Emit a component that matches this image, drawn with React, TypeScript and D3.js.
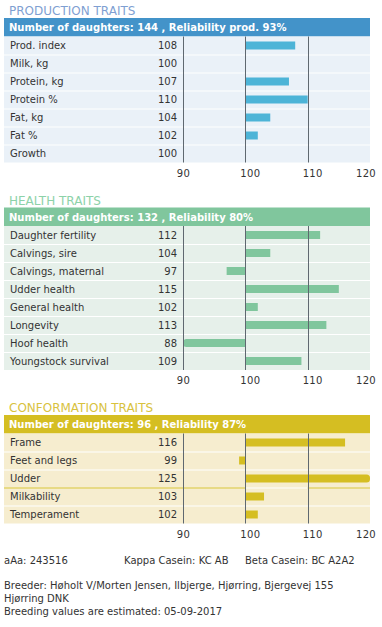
import React from "react";
import * as d3 from "d3";

const prodTitle = "PRODUCTION TRAITS";
const prodHeader = "Number of daughters: 144 , Reliability prod. 93%";
const prodLabels = ["Prod. index", "Milk, kg", "Protein, kg", "Protein %", "Fat, kg", "Fat %", "Growth"];
const prodValues = [108, 100, 107, 110, 104, 102, 100];

const healthTitle = "HEALTH TRAITS";
const healthHeader = "Number of daughters: 132 , Reliability 80%";
const healthLabels = ["Daughter fertility", "Calvings, sire", "Calvings, maternal", "Udder health", "General health", "Longevity", "Hoof health", "Youngstock survival"];
const healthValues = [112, 104, 97, 115, 102, 113, 88, 109];

const confTitle = "CONFORMATION TRAITS";
const confHeader = "Number of daughters: 96 , Reliability 87%";
const confLabels = ["Frame", "Feet and legs", "Udder", "Milkability", "Temperament"];
const confValues = [116, 99, 125, 103, 102];

const tickValues = [90, 100, 110, 120];
const gridValues = [90, 100, 110];

const footLine1 = ["aAa: 243516", "Kappa Casein: KC AB", "Beta Casein: BC A2A2"];
const footLines = [
  "Breeder: Høholt V/Morten Jensen, Ilbjerge, Hjørring, Bjergevej 155",
  "Hjørring DNK",
  "Breeding values are estimated: 05-09-2017",
];

const FONT = "'DejaVu Sans', Verdana, sans-serif";

const sections = [
  { title: prodTitle, header: prodHeader, labels: prodLabels, values: prodValues,
    titleColor: "#7f9fd2", headColor: "#4393c9", barColor: "#4db4d7", rowColor: "#eaf1f8", special: -1 },
  { title: healthTitle, header: healthHeader, labels: healthLabels, values: healthValues,
    titleColor: "#8dd2a9", headColor: "#80c69d", barColor: "#80c69d", rowColor: "#e6f0ea", special: -1 },
  { title: confTitle, header: confHeader, labels: confLabels, values: confValues,
    titleColor: "#d8c23e", headColor: "#d5be22", barColor: "#d5be22", rowColor: "#f6edcf", special: 2 },
];

const LEFT = 4;
const RIGHT = 370;
const ROW_H = 18;
const HEAD_H = 18;
const BAR_H = 8;

const x = d3.scaleLinear().domain([90, 120]).range([183, 370]);

function barPath(v: number, y: number) {
  const [dMin, dMax] = x.domain();
  const cv = Math.max(dMin, Math.min(dMax, v));
  const x0 = x(100);
  const x1 = x(cv);
  const r = 3.5;
  const h = BAR_H;
  if (v > dMax) {
    return `M${x0},${y}H${x1 - r}A${r},${r} 0 0 1 ${x1},${y + r}V${y + h - r}A${r},${r} 0 0 1 ${x1 - r},${y + h}H${x0}Z`;
  }
  if (v < dMin) {
    return `M${x0},${y}H${x1 + r}A${r},${r} 0 0 0 ${x1},${y + r}V${y + h - r}A${r},${r} 0 0 0 ${x1 + r},${y + h}H${x0}Z`;
  }
  const a = Math.min(x0, x1), b = Math.max(x0, x1);
  return `M${a},${y}H${b}V${y + h}H${a}Z`;
}

export default function App() {
  let headTop = 18;
  const blocks: any[] = [];
  let lastBottom = 0;
  sections.forEach((s, si) => {
    const rowsTop = headTop + HEAD_H + 0.5;
    const rowsBottom = rowsTop + s.labels.length * ROW_H;
    blocks.push(
      <g key={si}>
        <text x={9} y={headTop - 3} fontSize={12} fill={s.titleColor} fontFamily={FONT}>{s.title}</text>
        <rect x={LEFT} y={headTop} width={RIGHT - LEFT} height={HEAD_H + 0.5} fill={s.headColor} />
        <text x={9} y={headTop + 13} fontSize={10} fontWeight="bold" fill="#ffffff" fontFamily={FONT}>{s.header}</text>
        {s.labels.map((lab, i) => {
          const ry = rowsTop + i * ROW_H;
          return (
            <g key={i}>
              <rect x={LEFT} y={ry + (i === 0 ? 0 : 1)} width={RIGHT - LEFT} height={ROW_H - (i === 0 ? 0 : 1)} fill={s.rowColor} />
              <text x={10} y={ry + 12.5} fontSize={10} fill="#333333" fontFamily={FONT}>{lab}</text>
              <text x={177} y={ry + 12.5} fontSize={10} fill="#333333" textAnchor="end" fontFamily={FONT}>{s.values[i]}</text>
            </g>
          );
        })}
        {s.special >= 0 && (
          <g>
            <line x1={LEFT} x2={x(100)} y1={rowsTop + (s.special + 1) * ROW_H + 0.5} y2={rowsTop + (s.special + 1) * ROW_H + 0.5} stroke={s.barColor} strokeWidth={1} />
            <line x1={x(110)} x2={RIGHT} y1={rowsTop + (s.special + 1) * ROW_H + 0.5} y2={rowsTop + (s.special + 1) * ROW_H + 0.5} stroke={s.barColor} strokeWidth={1} />
          </g>
        )}
        {s.values.map((v, i) => {
          const ry = rowsTop + i * ROW_H + 5;
          if (v === 100) return null;
          return <path key={i} d={barPath(v, ry)} fill={s.barColor} />;
        })}
        {gridValues.map((g) => (
          <line key={g} x1={Math.round(x(g)) + 0.5} x2={Math.round(x(g)) + 0.5} y1={rowsTop} y2={rowsBottom} stroke="#5f6870" strokeWidth={1} />
        ))}
        {tickValues.map((t, ti) => {
          const last = ti === tickValues.length - 1;
          const first = ti === 0;
          const tx = first ? x(t) + 0.5 : last ? x(t) + 6 : x(t) + 5;
          return (
            <text key={t} x={tx} y={rowsBottom + 14} fontSize={10} fill="#333333" textAnchor={last ? "end" : "middle"} fontFamily={FONT} letterSpacing={0.3}>{t}</text>
          );
        })}
      </g>
    );
    lastBottom = rowsBottom;
    headTop = rowsBottom + 45;
  });

  const fy = lastBottom + 40;
  return (
    <svg width={382} height={627} style={{ position: "absolute", left: 0, top: 0, display: "block" }}>
      <rect x={0} y={0} width={382} height={627} fill="#ffffff" />
      {blocks}
      <text x={4} y={fy} fontSize={10} fill="#333333" fontFamily={FONT}>{footLine1[0]}</text>
      <text x={124} y={fy} fontSize={10} fill="#333333" fontFamily={FONT}>{footLine1[1]}</text>
      <text x={245} y={fy} fontSize={10} fill="#333333" fontFamily={FONT}>{footLine1[2]}</text>
      {footLines.map((l, i) => (
        <text key={i} x={4} y={fy + 25 + i * 13} fontSize={10} fill="#333333" fontFamily={FONT}>{l}</text>
      ))}
    </svg>
  );
}
